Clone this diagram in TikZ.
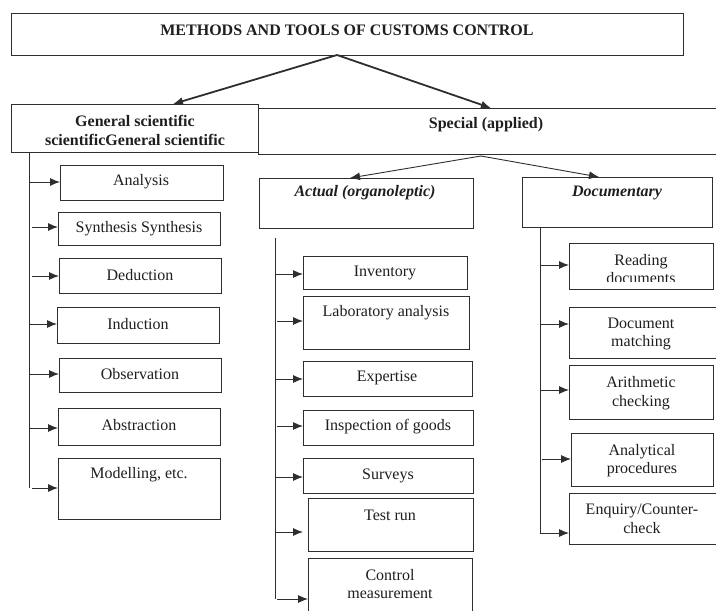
\documentclass[tikz,border=0pt]{standalone}
\usepackage{fontspec}
\setmainfont{Liberation Serif}
\usetikzlibrary{arrows.meta}
\definecolor{ln}{HTML}{2E2E2E}
\definecolor{tc}{HTML}{1E1E1E}
\newcommand{\mybox}[5]{\node[bx, minimum width={#4-#2}, minimum height={#5-#3}] (#1) at ({(#2+#4)/2},{(#3+#5)/2}) {};}
\tikzset{
  bx/.style={draw=ln, line width=0.9pt, inner sep=0pt, outer sep=0pt},
  tx/.style={font=\fontsize{16}{18.5}\selectfont, text=tc, align=center, inner sep=0pt},
  arr/.style={draw=ln, line width=0.9pt, -{Latex[length=10pt,width=8pt]}},
  bigarr/.style={draw=ln, line width=1.8pt, -{Latex[length=10pt,width=8pt]}},
  vl/.style={draw=ln, line width=0.9pt}
}
\begin{document}
\begin{tikzpicture}[x=1pt,y=-1pt]
\useasboundingbox (0,0) rectangle (716,611);
\clip (0,0) rectangle (716,611);
% level 0
\mybox{top}{11}{13}{683}{55}
\node[tx, font=\fontsize{16}{18.5}\selectfont\bfseries] (top-t) at (347,30) {METHODS AND TOOLS OF CUSTOMS CONTROL};
% level 1
\mybox{spec}{258}{108}{740}{154}
\mybox{gen}{11}{104}{258}{152}
\node[tx, font=\fontsize{16}{18.5}\selectfont\bfseries] (gen-t) at (135,130.5) {General scientific\\scientificGeneral scientific};
\node[tx, font=\fontsize{16}{18.5}\selectfont\bfseries] (spec-t) at (486,125) {Special (applied)};
\coordinate (o1) at (337,55);
\draw[bigarr] (o1) -- ([xshift=162pt]gen.north west);
\draw[bigarr] (o1) -- ([xshift=233pt]spec.north west);
% level 2
\mybox{act}{259}{178}{473}{228}
\mybox{doc}{522}{177}{712}{227}
\node[tx, font=\fontsize{16}{18.5}\selectfont\bfseries\itshape] (act-t) at (365,193) {Actual (organoleptic)};
\node[tx, font=\fontsize{16}{18.5}\selectfont\bfseries\itshape] (doc-t) at (617,193) {Documentary};
\coordinate (o2) at (481,156);
\draw[arr] (o2) -- ([xshift=91pt]act.north west);
\draw[arr] (o2) -- ([xshift=77pt]doc.north west);

% general column
\coordinate (vg) at (29,488);
\draw[vl] (vg |- gen.south) -- (vg);
\mybox{an}{60}{165}{223}{200}
\mybox{sy}{58}{212}{220}{245}
\mybox{de}{59}{258}{221}{293}
\mybox{in}{57}{307}{219}{343}
\mybox{ob}{59}{358}{221}{392}
\mybox{ab}{58}{408}{220}{445}
\mybox{mo}{58}{458}{220}{519}
\node[tx] (an-t) at (141,182) {Analysis};
\node[tx] (sy-t) at (139,229) {Synthesis Synthesis};
\node[tx] (de-t) at (140,275) {Deduction};
\node[tx] (in-t) at (138,324) {Induction};
\node[tx] (ob-t) at (140,374) {Observation};
\node[tx] (ab-t) at (139,425) {Abstraction};
\node[tx] (mo-t) at (139,475) {Modelling, etc.};
\coordinate (g1) at (30,182);
\coordinate (g2) at (32,227);
\coordinate (g3) at (32,276);
\coordinate (g4) at (30,324);
\coordinate (g5) at (30,374);
\coordinate (g6) at (29,428);
\coordinate (g7) at (32,488);
\draw[arr] (g1) -- (g1 -| an.west);
\draw[arr] (g2) -- (g2 -| sy.west);
\draw[arr] (g3) -- (g3 -| de.west);
\draw[arr] (g4) -- (g4 -| in.west);
\draw[arr] (g5) -- (g5 -| ob.west);
\draw[arr] (g6) -- (g6 -| ab.west);
\draw[arr] (g7) -- (g7 -| mo.west);

% actual column
\coordinate (va1) at (275,238);
\coordinate (va2) at (275,599);
\draw[vl] (va1) -- (va2);
\mybox{inv}{303}{256}{467}{289}
\mybox{lab}{303}{296}{469}{349}
\mybox{exp}{303}{361}{472}{396}
\mybox{isp}{303}{410}{473}{445}
\mybox{sur}{303}{458}{473}{493}
\mybox{tst}{308}{498}{473}{551}
\mybox{cm}{308}{558}{472}{650}
\node[tx] (inv-t) at (385,273) {Inventory};
\node[tx] (lab-t) at (386,313) {Laboratory analysis};
\node[tx] (exp-t) at (387,378) {Expertise};
\node[tx] (isp-t) at (388,427) {Inspection of goods};
\node[tx] (sur-t) at (388,476) {Surveys};
\node[tx] (tst-t) at (390,515) {Test run};
\node[tx] (cm-t) at (390,584) {Control\\measurement};
\coordinate (a1) at (275,274);
\coordinate (a2) at (277,321);
\coordinate (a3) at (275,379);
\coordinate (a4) at (277,426);
\coordinate (a5) at (275,477);
\coordinate (a6) at (275,532);
\coordinate (a7) at (277,599);
\draw[arr] (a1) -- (a1 -| inv.west);
\draw[arr] (a2) -- (a2 -| lab.west);
\draw[arr] (a3) -- (a3 -| exp.west);
\draw[arr] (a4) -- (a4 -| isp.west);
\draw[arr] (a5) -- (a5 -| sur.west);
\draw[arr] (a6) -- ([xshift=-5pt]a6 -| tst.west);
\draw[arr] (a7) -- (a7 -| cm.west);

% documentary column
\coordinate (vd) at (540,533);
\draw[vl] (vd |- doc.south) -- (vd);
\mybox{rd}{569}{243}{713}{289}
\mybox{dm}{569}{307}{722}{358}
\mybox{ar}{569}{365}{713}{419}
\mybox{ap}{571}{433}{713}{486}
\mybox{eq}{569}{493}{722}{544}
\begin{scope}
\clip (569,243) rectangle (713,281);
\node[tx] (rd-t) at (641,269) {Reading\\documents};
\end{scope}
\node[tx] (dm-t) at (641,334) {Document\\matching};
\node[tx] (ar-t) at (641,393) {Arithmetic\\checking};
\node[tx] (ap-t) at (642,460.5) {Analytical\\procedures};
\node[tx] (eq-t) at (642,519) {Enquiry/Counter-\\check};
\coordinate (d1) at (540,265);
\coordinate (d2) at (540,324);
\coordinate (d3) at (540,390);
\coordinate (d4) at (542,459);
\coordinate (d5) at (540,533);
\draw[arr] (d1) -- (d1 -| rd.west);
\draw[arr] (d2) -- (d2 -| dm.west);
\draw[arr] (d3) -- (d3 -| ar.west);
\draw[arr] (d4) -- (d4 -| ap.west);
\draw[arr] (d5) -- (d5 -| eq.west);
\end{tikzpicture}
\end{document}
